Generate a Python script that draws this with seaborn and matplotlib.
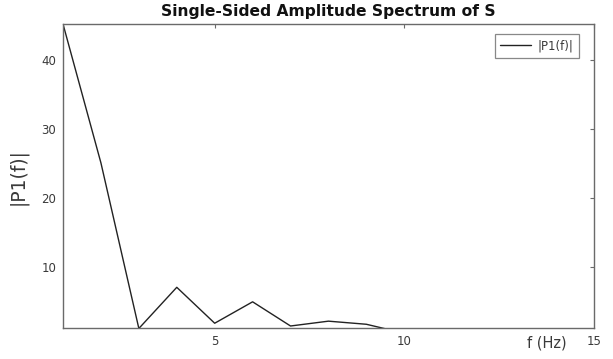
import pandas as pd
import matplotlib
matplotlib.use("Agg")
import matplotlib.pyplot as plt
import seaborn as sns

# values
freq = [1, 2, 3, 4, 5, 6, 7, 8, 9, 10]
amp = [45.2, 25.1, 1.14, 7.1, 1.9, 5.0, 1.5, 2.2, 1.75, 0.45]
xticks = [5, 10, 15]
yticks = [10, 20, 30, 40]

df = pd.DataFrame({"f": freq, "P1": amp})

sns.set_style("white")
plt.rcParams["font.family"] = ["DejaVu Sans"]

axis_col = "#6a6a6a"
text_col = "#3a3a3a"

fig = plt.figure(figsize=(6.13, 3.59), dpi=100)
ax = fig.add_axes([0.1028, 0.085, 0.866, 0.848])

sns.lineplot(data=df, x="f", y="P1", ax=ax, color="#222222", linewidth=1.0,
             label="|P1(f)|")

ax.set_xlim(1, 15)
ax.set_ylim(1.14, 45.2)
ax.set_xticks(xticks)
ax.set_yticks(yticks)

for s in ax.spines.values():
    s.set_visible(True)
    s.set_color(axis_col)
    s.set_linewidth(1.0)

ax.tick_params(direction="in", length=3, width=0.8, color=axis_col,
               labelcolor=text_col, labelsize=8.5, top=True, right=True, pad=5)

ax.set_xlabel("")
ax.set_ylabel("|P1(f)|", fontsize=13.5, color=text_col, labelpad=10)
fig.text(547 / 613, 1 - 343 / 359, "f (Hz)", fontsize=10.5, color=text_col,
         ha="center", va="center")
ax.set_title("Single-Sided Amplitude Spectrum of S", fontsize=11.2,
             fontweight="bold", color="#111111", pad=6)

leg = ax.legend(loc="upper right", bbox_to_anchor=(0.972, 0.967),
                borderaxespad=0, fancybox=False, fontsize=8.5,
                handlelength=2.6, handletextpad=0.6, borderpad=0.45)
leg.get_frame().set_edgecolor(axis_col)
leg.get_frame().set_linewidth(0.9)
for t in leg.get_texts():
    t.set_color(text_col)

fig.savefig("out.png", dpi=100)
